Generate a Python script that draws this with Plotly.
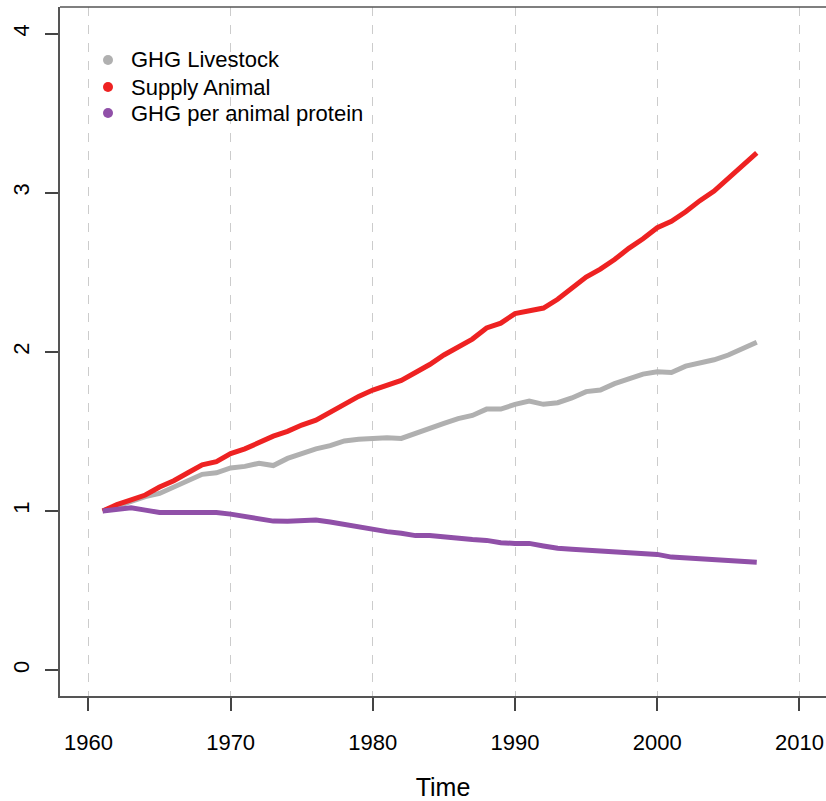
import plotly.graph_objects as go

years = list(range(1961, 2008))

ghg_livestock = [1.00, 1.03, 1.06, 1.09, 1.11, 1.15, 1.19, 1.23, 1.24, 1.27,
                 1.28, 1.30, 1.285, 1.33, 1.36, 1.39, 1.41, 1.44, 1.45, 1.456,
                 1.46, 1.456, 1.49, 1.52, 1.55, 1.58, 1.60, 1.64, 1.64, 1.67,
                 1.69, 1.67, 1.68, 1.71, 1.75, 1.76, 1.80, 1.83, 1.86, 1.875,
                 1.87, 1.91, 1.93, 1.95, 1.98, 2.02, 2.06]

supply_animal = [1.00, 1.04, 1.07, 1.10, 1.15, 1.19, 1.24, 1.29, 1.31, 1.36,
                 1.39, 1.43, 1.47, 1.50, 1.54, 1.57, 1.62, 1.67, 1.72, 1.76,
                 1.79, 1.82, 1.87, 1.92, 1.98, 2.03, 2.08, 2.15, 2.18, 2.24,
                 2.26, 2.275, 2.33, 2.40, 2.47, 2.52, 2.58, 2.65, 2.71, 2.78,
                 2.82, 2.88, 2.95, 3.01, 3.09, 3.18, 3.25]

ghg_per_protein = [1.00, 1.01, 1.02, 1.005, 0.99, 0.99, 0.99, 0.997, 0.99, 0.98,
                   0.965, 0.95, 0.936, 0.935, 0.94, 0.943, 0.93, 0.915, 0.90, 0.88,
                   0.87, 0.86, 0.845, 0.845, 0.835, 0.83, 0.82, 0.815, 0.80, 0.796,
                   0.796, 0.78, 0.765, 0.76, 0.755, 0.75, 0.745, 0.735, 0.73, 0.727,
                   0.71, 0.705, 0.70, 0.69, 0.685, 0.68, 0.677]

series_names = ["GHG Livestock", "Supply Animal", "GHG per animal protein"]
series_values = [ghg_livestock, supply_animal, ghg_per_protein]
series_colors = ["#B0B0B0", "#EE2222", "#9050A8"]

x_ticks = [1960, 1970, 1980, 1990, 2000, 2010]
y_ticks = [0, 1, 2, 3, 4]

FONT = "Liberation Sans, Arial, sans-serif"
W, H = 826, 801
ML, MR, MT, MB = 60, 0, 7, 105
PW, PH = W - ML - MR, H - MT - MB

fig = go.Figure()
for name, vals, col in zip(series_names, series_values, series_colors):
    fig.add_trace(go.Scatter(x=years, y=vals, mode="lines", name=name,
                             line=dict(color=col, width=5), showlegend=False))

fig.update_layout(
    width=W, height=H,
    margin=dict(l=ML, r=MR, t=MT, b=MB, autoexpand=False),
    plot_bgcolor="white", paper_bgcolor="white",
    font=dict(family=FONT, size=21, color="black"),
    showlegend=False,
    xaxis=dict(range=[1958, 2011.87], tickvals=x_ticks, ticks="outside",
               ticklen=13, tickcolor="#444", tickwidth=1.5,
               showline=True, linecolor="#555", linewidth=1.5,
               showgrid=True, gridcolor="#CCCCCC", griddash="dash", gridwidth=1,
               zeroline=False, title=dict(text="Time", standoff=42),
               ticklabelstandoff=13, automargin=False,
               tickfont=dict(size=22)),
    yaxis=dict(range=[-0.163, 4.167], tickvals=y_ticks, ticks="outside",
               ticklen=13, tickcolor="#444", tickwidth=1.5,
               showline=True, linecolor="#555", linewidth=1.5,
               showgrid=False, zeroline=False, tickangle=-90,
               ticklabelstandoff=7, automargin=False,
               tickfont=dict(size=22)),
)
fig.add_shape(type="line", xref="paper", yref="paper", x0=0, x1=1, y0=1, y1=1,
              line=dict(color="#555", width=1.5))

# legend drawn manually (R-style compact legend)
leg_rows_px = [60, 87, 113]
dot_x_px, text_x_px = 108, 129
for name, col, py in zip(series_names, series_colors, leg_rows_px):
    xp = (dot_x_px - ML) / PW
    yp = 1 - (py - MT) / PH
    fig.add_shape(type="circle", xref="paper", yref="paper",
                  xsizemode="pixel", ysizemode="pixel",
                  xanchor=xp, yanchor=yp, x0=-5, x1=5, y0=-5, y1=5,
                  fillcolor=col, line=dict(width=0))
    fig.add_annotation(x=(text_x_px - ML) / PW, y=yp, xref="paper", yref="paper",
                       text=name, showarrow=False, xanchor="left", yanchor="middle",
                       font=dict(size=22, family=FONT, color="black"))

fig.write_html("out.html")
